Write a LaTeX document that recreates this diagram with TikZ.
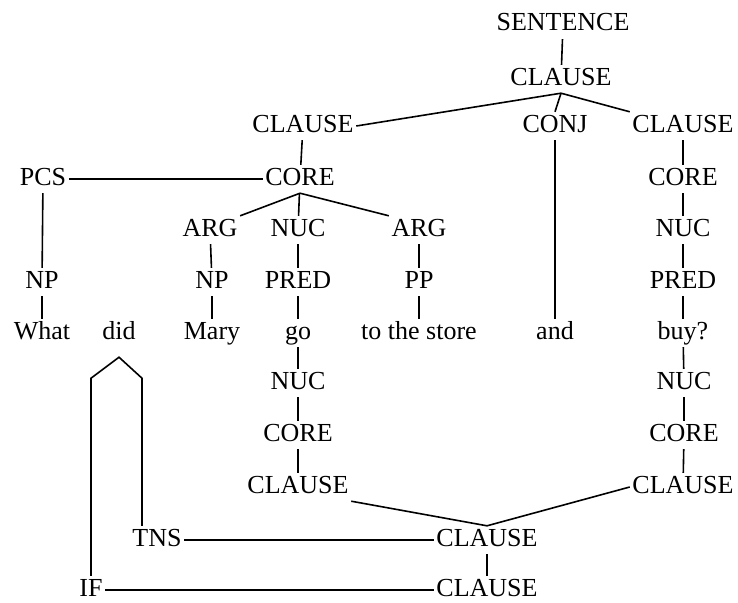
\documentclass[tikz,border=0pt]{standalone}
\usepackage{fontspec}
\setmainfont{Liberation Serif}
\usetikzlibrary{calc,positioning}

\begin{document}
\begin{tikzpicture}[
  x=1pt,y=-1pt,
  lab/.style={inner sep=2.5pt,font=\fontsize{26}{30}\selectfont,text height=17.5pt,text depth=5.5pt},
  edge/.style={line width=1.6pt},
  ]
  \useasboundingbox (0,0) rectangle (738,602);

  % upper tree
  \node (sent)  [lab] at (563,25)  {SENTENCE};
  \node (clTop) [lab] at (561,79)  {CLAUSE};
  \node (clL)   [lab] at (303,126) {CLAUSE};
  \node (conj)  [lab] at (555,126) {CONJ};
  \node (clR)   [lab] at (683,126) {CLAUSE};
  \node (pcs)   [lab] at (43,179)  {PCS};
  \node (coreL) [lab] at (300,179) {CORE};
  \node (coreR) [lab] at (683,179) {CORE};
  \node (argA)  [lab] at (210,230) {ARG};
  \node (nucL)  [lab] at (298,230) {NUC};
  \node (argB)  [lab] at (419,230) {ARG};
  \node (nucR)  [lab] at (683,230) {NUC};
  \node (npA)   [lab] at (42,282)  {NP};
  \node (npB)   [lab] at (212,282) {NP};
  \node (predL) [lab] at (298,282) {PRED};
  \node (pp)    [lab] at (419,282) {PP};
  \node (predR) [lab] at (683,282) {PRED};

  % words
  \node (wWhat)  [lab] at (42,333)  {What};
  \node (wDid)   [lab] at (119,333) {did};
  \node (wMary)  [lab] at (212,333) {Mary};
  \node (wGo)    [lab] at (298,333) {go};
  \node (wStore) [lab] at (419,333) {to the store};
  \node (wAnd)   [lab] at (555,333) {and};
  \node (wBuy)   [lab] at (683,333) {buy?};

  % lower tree
  \node (nucL2)  [lab] at (298,383) {NUC};
  \node (nucR2)  [lab] at (684,383) {NUC};
  \node (coreL2) [lab] at (298,435) {CORE};
  \node (coreR2) [lab] at (684,435) {CORE};
  \node (clL2)   [lab] at (298,487) {CLAUSE};
  \node (clR2)   [lab] at (683,487) {CLAUSE};
  \node (tns)    [lab] at (157,540) {TNS};
  \node (clM)    [lab] at (487,540) {CLAUSE};
  \node (ifn)    [lab] at (91,590)  {IF};
  \node (clBot)  [lab] at (487,590) {CLAUSE};

  \foreach \a/\b in {sent/clTop,clL/coreL,clR/coreR,coreR/nucR,nucR/predR,predR/wBuy,
    wBuy/nucR2,nucR2/coreR2,coreR2/clR2,coreL/nucL,nucL/predL,predL/wGo,wGo/nucL2,
    nucL2/coreL2,coreL2/clL2,argA/npB,npB/wMary,argB/pp,pp/wStore,pcs/npA,npA/wWhat,
    conj/wAnd,clM/clBot}
  \draw[edge] (\a) -- (\b);

  \draw[edge] (clTop.south) -- (clL.east);
  \draw[edge] (clTop.south) -- (conj.north);
  \draw[edge] (clTop.south) -- (clR.north west);
  \draw[edge] (coreL.south) -- (argA.north east);
  \draw[edge] (coreL.south) -- (argB.north west);

  \draw[edge] (pcs) -- (coreL);
  \draw[edge] (clL2.south east) -- (clM.north);
  \draw[edge] (clR2.west) -- (clM.north);
  \draw[edge] (tns) -- (clM);
  \draw[edge] (ifn) -- (clBot);

  \coordinate (didTip) at ([yshift=-10pt]wDid.south);
  \coordinate (kneeL) at ($(didTip)+(-24,21)$);
  \coordinate (kneeR) at ($(didTip)+(23,21)$);
  \draw[edge] (ifn.north) -- (ifn.north |- kneeL) -- (didTip) -- (kneeR) -- (kneeR |- tns.north);
\end{tikzpicture}
\end{document}
